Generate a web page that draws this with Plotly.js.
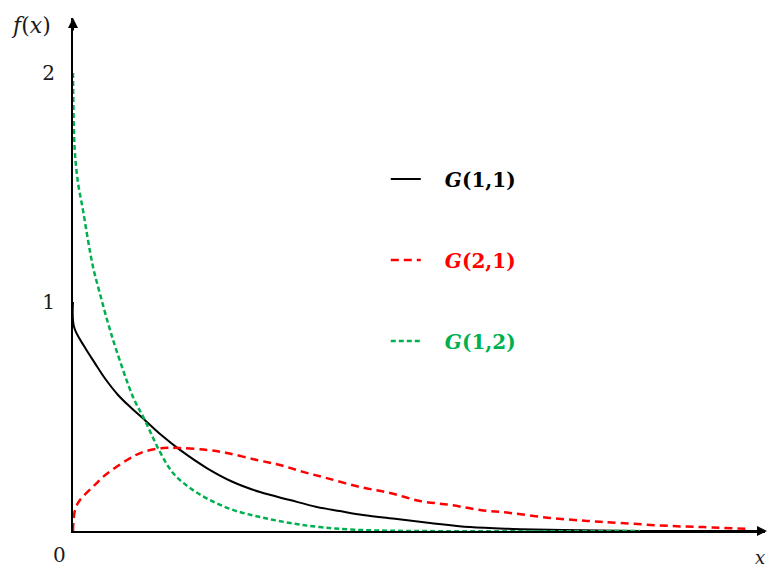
<!DOCTYPE html>
<html>
<head>
<meta charset="utf-8">
<script src="https://cdn.plot.ly/plotly-3.0.1.min.js"></script>
<style>html,body{margin:0;padding:0;background:#fff}#chart{width:768px;height:570px}</style>
</head>
<body>
<div id="chart"></div>
<script>
// Values (x in horizontal units, f(x) in vertical units)
const xG11 = [0, 0.01, 0.109, 0.203, 0.296, 0.421, 0.545, 0.67, 0.825, 1.0, 1.25, 1.495, 1.748, 2.028, 2.278, 2.495, 2.71, 3.028, 3.336, 3.71, 4.112, 4.579, 5.3, 6.467];
const yG11 = [1.0, 0.891, 0.803, 0.734, 0.668, 0.594, 0.537, 0.485, 0.419, 0.354, 0.275, 0.214, 0.17, 0.135, 0.105, 0.087, 0.07, 0.052, 0.035, 0.017, 0.009, 0.004, 0.0, 0.0];

const xG21 = [0, 0.019, 0.065, 0.224, 0.28, 0.505, 0.654, 0.841, 1.0, 1.25, 1.436, 1.717, 1.935, 2.15, 2.371, 2.682, 2.963, 3.243, 3.523, 3.804, 4.084, 4.458, 4.804, 5.112, 5.579, 5.888, 6.327];
const yG21 = [0, 0.092, 0.135, 0.21, 0.236, 0.31, 0.345, 0.362, 0.362, 0.354, 0.341, 0.31, 0.288, 0.258, 0.231, 0.192, 0.166, 0.131, 0.114, 0.092, 0.079, 0.057, 0.044, 0.035, 0.022, 0.017, 0.009];

const xG12 = [0, 0.016, 0.047, 0.093, 0.14, 0.187, 0.25, 0.327, 0.405, 0.561, 0.67, 0.813, 0.935, 1.093, 1.28, 1.495, 1.748, 2.028, 2.308, 2.71, 5.3];
const yG12 = [2.0, 1.664, 1.52, 1.402, 1.271, 1.153, 1.039, 0.908, 0.79, 0.585, 0.485, 0.345, 0.253, 0.188, 0.135, 0.092, 0.061, 0.035, 0.017, 0.004, 0.0];

const names = ['G(1,1)', 'G(2,1)', 'G(1,2)'];
const colors = ['#000000', '#ff0000', '#00b050'];
const yTickVals = [1, 2];
const yTickText = ['1', '2'];

const serif = 'DejaVu Serif, Liberation Serif, serif';

function legName(n, c) {
  const m = n.match(/^G(\(.*\))$/);
  return '<span style="color:' + c + '">&nbsp;&nbsp;&nbsp;<b><i>G</i>' + m[1] + '</b></span>';
}

const traces = [
  {x: xG11, y: yG11, name: legName(names[0], colors[0]), legendgroup: 'a', mode: 'lines',
   line: {color: colors[0], width: 2, shape: 'spline', smoothing: 1}, cliponaxis: false},
  {x: xG21, y: yG21, name: legName(names[1], colors[1]), legendgroup: 'b', mode: 'lines',
   line: {color: colors[1], width: 2.5, dash: '8px,5px', shape: 'spline', smoothing: 1}, cliponaxis: false},
  {x: xG12, y: yG12, name: legName(names[2], colors[2]), legendgroup: 'c', mode: 'lines',
   line: {color: colors[2], width: 2.5, dash: '5px,3px', shape: 'spline', smoothing: 1}, cliponaxis: false}
];

const txtFont = {family: serif, size: 20, color: '#1a1a1a'};

const layout = {
  width: 768, height: 570,
  margin: {l: 73, r: 3, t: 18, b: 39},
  paper_bgcolor: '#ffffff', plot_bgcolor: '#ffffff',
  showlegend: true,
  legend: {x: 0.452, y: 0.724, xanchor: 'left', yanchor: 'top', tracegroupgap: 52,
           font: {family: serif, size: 20, color: '#000'}, bgcolor: 'rgba(0,0,0,0)',
           itemwidth: 30},
  xaxis: {range: [0, 6.467], showgrid: false, zeroline: false, showline: true, linecolor: '#000',
          linewidth: 2, showticklabels: false, ticks: '', fixedrange: true},
  yaxis: {range: [0, 2.24], showgrid: false, zeroline: false, showline: true, linecolor: '#000',
          linewidth: 2, tickvals: yTickVals, ticktext: yTickText, ticks: '',
          tickfont: {family: serif, size: 20, color: '#1a1a1a'}, ticklabelstandoff: 12, fixedrange: true},
  annotations: [
    {xref: 'paper', yref: 'paper', x: 0, y: 1, ax: 0, ay: 14, text: '', showarrow: true,
     arrowhead: 2, arrowsize: 1, arrowwidth: 2, arrowcolor: '#000'},
    {xref: 'paper', yref: 'paper', x: 1.003, y: 0, ax: -14, ay: 0, text: '', showarrow: true,
     arrowhead: 2, arrowsize: 1, arrowwidth: 2, arrowcolor: '#000'},
    {xref: 'paper', yref: 'paper', x: -0.061, y: 0.986, text: '<i>f</i>(<i>x</i>)', showarrow: false,
     font: {family: serif, size: 22, color: '#1a1a1a'}, xanchor: 'center', yanchor: 'middle'},
    {xref: 'paper', yref: 'paper', x: -0.019, y: -0.047, text: '0', showarrow: false,
     font: txtFont, xanchor: 'center', yanchor: 'middle'},
    {xref: 'paper', yref: 'paper', x: 0.993, y: -0.052, text: '<i>x</i>', showarrow: false,
     font: {family: serif, size: 18, color: '#1a1a1a'}, xanchor: 'center', yanchor: 'middle'}
  ]
};

Plotly.newPlot('chart', traces, layout, {displayModeBar: false, staticPlot: true});
</script>
</body>
</html>
